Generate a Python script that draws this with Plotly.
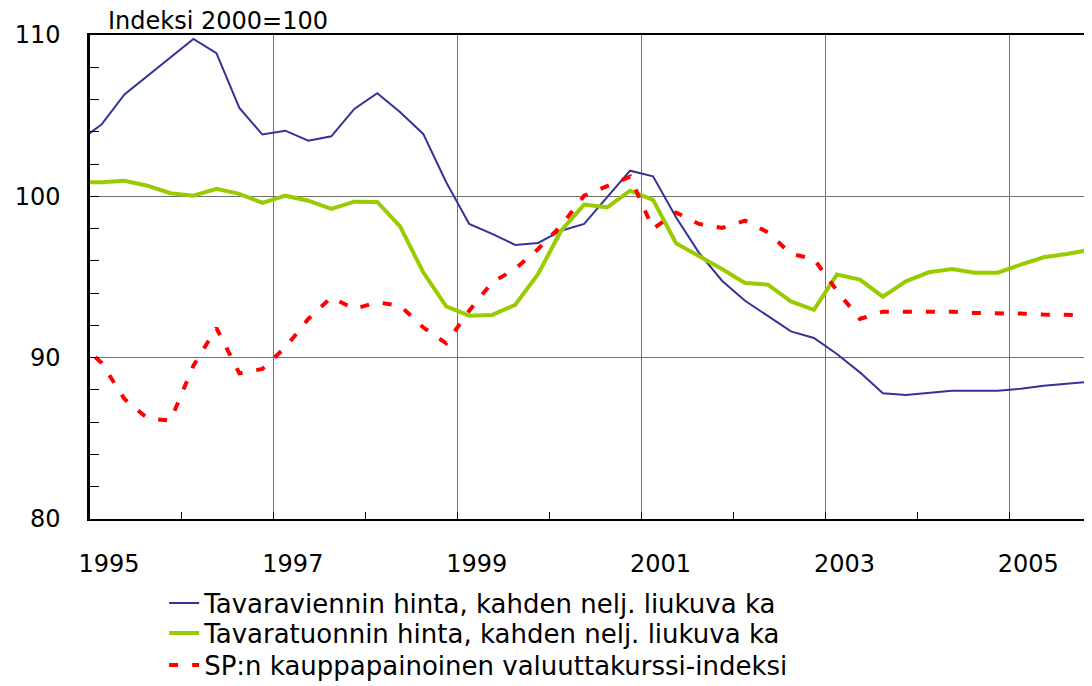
import plotly.graph_objects as go

# Quarterly observations, 1994Q4 .. 2005Q4 (first point sits just left of the axis)
quarters = ["1994Q4"] + [f"{y}Q{q}" for y in range(1995, 2006) for q in range(1, 5)]

export_price = [
    103.4, 104.45, 106.32, 107.48, 108.66, 109.76, 108.87, 105.48, 103.83,
    104.07, 103.45, 103.72, 105.42, 106.39, 105.21, 103.87, 100.87,
    98.29, 97.67, 96.99, 97.11, 97.87, 98.29, 99.94, 101.59,
    101.24, 98.7, 96.5, 94.77, 93.53, 92.56, 91.63, 91.22,
    90.23, 89.09, 87.79, 87.69, 87.83, 87.95, 87.95, 87.95,
    88.08, 88.26, 88.39, 88.51,
]
import_price = [
    100.87, 100.87, 100.97, 100.66, 100.19, 100.04, 100.46, 100.15, 99.59,
    100.04, 99.73, 99.22, 99.67, 99.65, 98.12, 95.29, 93.18,
    92.6, 92.65, 93.27, 95.19, 97.87, 99.49, 99.32, 100.35,
    99.78, 97.09, 96.32, 95.5, 94.63, 94.53, 93.49, 92.96,
    95.15, 94.84, 93.78, 94.73, 95.29, 95.5, 95.27, 95.27,
    95.77, 96.22, 96.43, 96.68,
]
currency_index = [
    91.0, 89.68, 87.44, 86.24, 86.1, 89.5, 91.84, 89.03, 89.3,
    90.64, 92.4, 93.74, 93.02, 93.43, 93.22, 91.88, 90.89,
    92.91, 94.67, 95.5, 96.74, 98.18, 100.04, 100.66, 101.22,
    97.98, 99.0, 98.29, 98.04, 98.49, 97.77, 96.43, 96.12,
    94.15, 92.4, 92.85, 92.85, 92.85, 92.85, 92.77, 92.77,
    92.73, 92.67, 92.67, 92.63,
]

series_names = [
    "Tavaraviennin hinta, kahden nelj. liukuva ka",
    "Tavaratuonnin hinta, kahden nelj. liukuva ka",
    "SP:n kauppapainoinen valuuttakurssi-indeksi",
]
year_ticks = [1995, 1997, 1999, 2001, 2003, 2005]
y_ticks = [80, 90, 100, 110]


def quarter_mid(label):
    year, q = label.split("Q")
    return int(year) + (int(q) - 0.5) / 4


x = [quarter_mid(q) for q in quarters]

FONT = "DejaVu Sans"
PLOT_H = 484
TOP = 27

# the page body has an 8px margin, so the figure is sized to the visible area
fig = go.Figure()
fig.add_trace(go.Scatter(x=x, y=export_price, mode="lines", name=series_names[0],
                         line={"color": "#333399", "width": 2}, legend="legend"))
fig.add_trace(go.Scatter(x=x, y=import_price, mode="lines", name=series_names[1],
                         line={"color": "#99cc00", "width": 4}, legend="legend2"))
fig.add_trace(go.Scatter(x=x, y=currency_index, mode="lines", name=series_names[2],
                         line={"color": "#ff0000", "width": 4, "dash": "9px,14px"},
                         legend="legend3"))


def legend_row(y):
    return {
        "x": 0.074, "xanchor": "left",
        "y": y, "yanchor": "middle",
        "font": {"size": 26, "color": "black"},
        "bgcolor": "rgba(0,0,0,0)",
    }


fig.update_layout(
    width=1084,
    height=678,
    paper_bgcolor="white",
    plot_bgcolor="white",
    margin={"l": 82, "r": 0, "t": TOP, "b": 678 - TOP - PLOT_H, "autoexpand": False},
    font={"family": FONT, "size": 24, "color": "black"},
    showlegend=True,
    legend=legend_row(-0.174),
    legend2=legend_row(-0.236),
    legend3=legend_row(-0.302),
)

fig.update_xaxes(
    range=[1995, 2005.9],
    automargin=False,
    tickvals=year_ticks,
    ticktext=[str(v) for v in year_ticks],
    showgrid=True, gridcolor="#707070", gridwidth=1.2,
    zeroline=False,
    showline=True, linecolor="black", linewidth=2, mirror=True,
    ticks="inside", ticklen=7, tickcolor="black",
    minor={"dtick": 1, "ticks": "inside", "ticklen": 7, "tickcolor": "black", "showgrid": False},
    ticklabelshift=19,
    ticklabelstandoff=22,
    tickfont={"size": 24},
)
fig.update_yaxes(
    range=[80, 110],
    automargin=False,
    tickvals=y_ticks,
    showgrid=True, gridcolor="#707070", gridwidth=1.2,
    zeroline=False,
    showline=True, linecolor="black", linewidth=2.5,
    ticks="inside", ticklen=9, tickcolor="black",
    minor={"dtick": 2, "ticks": "inside", "ticklen": 9, "tickcolor": "black", "showgrid": False},
    ticklabelstandoff=22,
    tickfont={"size": 24},
)

fig.add_annotation(
    text="Indeksi 2000=100",
    xref="paper", yref="paper", x=0.016, y=1 + TOP / PLOT_H,
    xanchor="left", yanchor="top", yshift=3,
    showarrow=False,
    font={"family": FONT, "size": 24, "color": "black"},
)

fig.write_html("out.html")
